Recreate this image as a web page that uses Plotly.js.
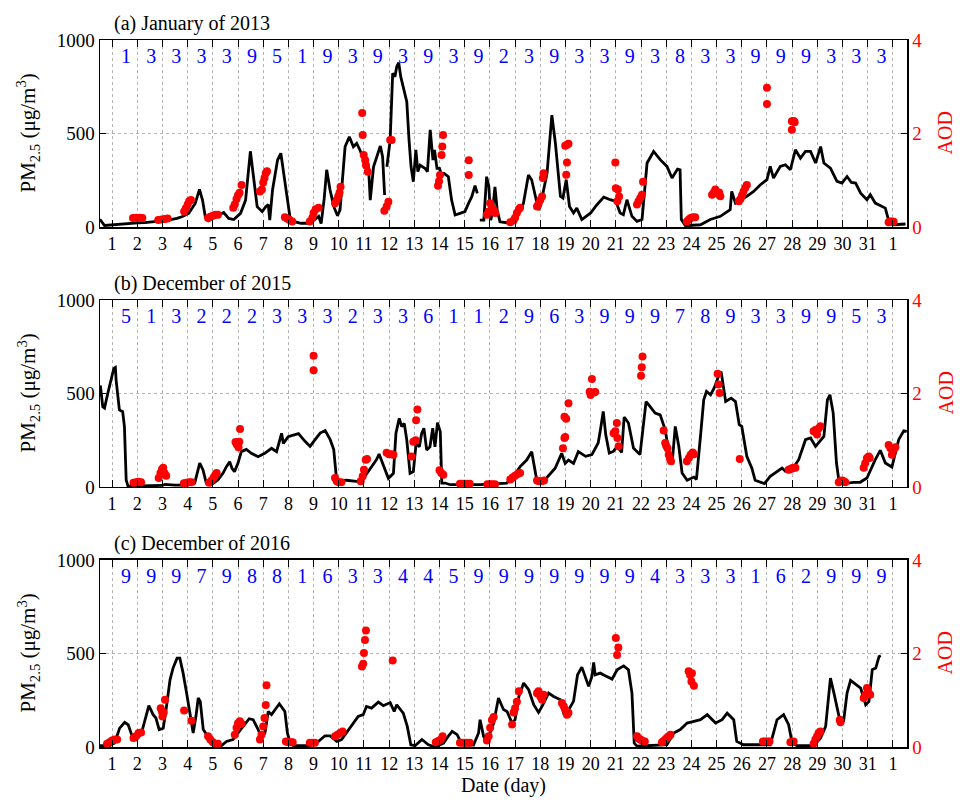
<!DOCTYPE html>
<html>
<head>
<meta charset="utf-8">
<script src="https://cdn.plot.ly/plotly-3.0.1.min.js"></script>
<style>html,body{margin:0;padding:0;background:#fff;}#chart{width:960px;height:802px;}</style>
</head>
<body>
<div id="chart"></div>
<script>
// ---------- DATA ----------
const dayTicks = [1,2,3,4,5,6,7,8,9,10,11,12,13,14,15,16,17,18,19,20,21,22,23,24,25,26,27,28,29,30,31,32];
const dayTickText = ["1","2","3","4","5","6","7","8","9","10","11","12","13","14","15","16","17","18","19","20","21","22","23","24","25","26","27","28","29","30","31","1"];
const clusterDays = [1,2,3,4,5,6,7,8,9,10,11,12,13,14,15,16,17,18,19,20,21,22,23,24,25,26,27,28,29,30,31];

const titleA = "(a) January of 2013";
const titleB = "(b) December of 2015";
const titleC = "(c) December of 2016";

const clusterA = ["1","3","3","3","3","9","5","1","9","3","9","3","9","3","9","2","3","9","3","3","9","3","8","3","3","9","9","9","3","3","3"];
const clusterB = ["5","1","3","2","2","2","3","3","3","2","3","3","6","1","1","2","9","6","3","9","9","9","7","8","9","3","3","9","9","5","3"];
const clusterC = ["9","9","9","7","9","8","8","1","6","3","3","4","4","5","9","9","9","9","9","9","9","4","3","3","3","1","6","2","9","9","9"];

// PM2.5 (day, µg/m3); null = missing
const pmA = [[0.5,37],[0.54,37],[0.7,8],[0.97,11],[1.3,15],[1.63,20],[2.0,22],[2.3,23],[2.7,28],[3.0,30],[3.24,37],[3.57,46],[3.77,55],[4.04,73],[4.3,126],[4.47,201],[4.59,144],[4.7,55],[4.83,34],[5.1,55],[5.43,77],[5.63,46],[5.83,40],[6.1,73],[6.3,144],[6.49,405],[6.63,233],[6.76,109],[6.96,82],[7.1,109],[7.2,120],[7.26,37],[7.37,198],[7.57,358],[7.7,394],[7.83,269],[7.96,144],[8.06,55],[8.2,30],[8.5,20],[8.8,20],[9.0,35],[9.2,57],[9.3,18],[9.42,150],[9.52,306],[9.65,200],[9.8,110],[9.95,60],[10.05,91],[10.25,429],[10.42,483],[10.58,429],[10.71,447],[10.84,412],[11.05,340],[11.18,322],[11.25,144],[11.38,322],[11.51,376],[11.65,433],[11.74,376],[11.82,171],[11.86,null],[11.91,322],[12.04,465],[12.14,822],[12.23,804],[12.3,857],[12.38,879],[12.46,804],[12.56,750],[12.7,670],[12.79,465],[12.87,322],[12.96,242],[13.06,412],[13.14,296],[13.23,331],[13.43,313],[13.52,296],[13.63,519],[13.74,358],[13.8,412],[13.9,313],[14.0,313],[14.06,287],[14.18,287],[14.35,269],[14.48,144],[14.62,64],[14.81,73],[15.01,82],[15.15,126],[15.28,162],[15.41,221],[15.5,180],[15.55,null],[15.6,37],[15.76,37],[15.87,269],[15.96,215],[16.03,37],[16.1,73],[16.2,215],[16.29,91],[16.4,28],[16.66,23],[16.93,37],[17.13,73],[17.33,126],[17.53,278],[17.66,251],[17.8,162],[17.93,91],[18.0,110],[18.27,288],[18.46,598],[18.6,448],[18.8,164],[18.9,155],[19.03,253],[19.16,110],[19.32,75],[19.45,101],[19.65,40],[20.0,75],[20.25,119],[20.52,160],[20.78,146],[21.0,137],[21.17,75],[21.3,66],[21.44,146],[21.64,57],[21.84,30],[22.04,40],[22.24,342],[22.5,404],[22.77,359],[23.03,324],[23.23,262],[23.45,310],[23.55,306],[23.6,40],[23.76,7],[24.1,12],[24.36,12],[24.75,40],[25.15,57],[25.54,93],[25.6,190],[25.75,128],[26.0,146],[26.2,164],[26.47,190],[26.74,226],[27.0,253],[27.13,324],[27.26,262],[27.53,324],[27.73,333],[27.93,306],[28.13,413],[28.33,368],[28.53,404],[28.73,404],[28.93,342],[29.13,430],[29.26,342],[29.52,315],[29.78,244],[29.98,235],[30.18,270],[30.35,238],[30.52,235],[30.72,181],[30.97,146],[31.1,173],[31.3,128],[31.57,110],[31.7,101],[31.84,30],[32.03,12],[32.5,16]];

const pmB = [[0.5,537],[0.54,536],[0.63,429],[0.7,422],[0.83,501],[1.07,635],[1.13,640],[1.16,572],[1.29,412],[1.42,403],[1.49,323],[1.56,37],[1.63,5],[2.0,5],[2.5,6],[3.0,8],[3.1,14],[3.5,10],[4.0,10],[4.28,21],[4.48,128],[4.61,91],[4.74,21],[4.94,12],[5.2,37],[5.4,73],[5.54,109],[5.67,135],[5.76,100],[5.86,82],[6.0,128],[6.13,189],[6.33,201],[6.53,180],[6.8,162],[7.06,180],[7.33,207],[7.53,189],[7.73,287],[7.8,233],[7.99,269],[8.19,278],[8.4,285],[8.66,244],[8.86,217],[9.06,253],[9.26,288],[9.46,302],[9.66,253],[9.8,200],[9.9,57],[9.98,30],[10.3,36],[10.7,30],[10.9,25],[11.04,57],[11.23,93],[11.5,146],[11.6,176],[11.78,109],[11.97,46],[12.17,73],[12.27,287],[12.4,367],[12.5,323],[12.6,340],[12.7,251],[12.83,73],[12.96,82],[13.07,233],[13.2,215],[13.29,287],[13.38,314],[13.49,198],[13.62,215],[13.73,314],[13.82,215],[13.92,344],[14.03,296],[14.09,21],[14.22,21],[14.42,12],[15.61,12],[16.67,21],[16.93,55],[17.2,109],[17.46,144],[17.66,189],[17.75,118],[17.86,37],[18.12,28],[18.39,73],[18.59,100],[18.85,180],[18.99,126],[19.12,144],[19.32,126],[19.51,189],[19.8,164],[20.05,173],[20.3,235],[20.4,315],[20.5,404],[20.6,279],[20.74,181],[20.9,190],[21.06,217],[21.23,185],[21.33,374],[21.5,342],[21.7,208],[21.96,173],[22.2,457],[22.3,440],[22.56,395],[22.76,386],[22.96,306],[23.1,190],[23.23,119],[23.36,324],[23.5,217],[23.63,75],[23.83,36],[24.1,53],[24.2,40],[24.36,270],[24.49,466],[24.6,511],[24.76,493],[24.9,528],[25.1,600],[25.18,617],[25.36,457],[25.58,475],[25.75,457],[25.9,333],[26.0,324],[26.2,164],[26.4,101],[26.53,36],[26.9,18],[27.13,57],[27.6,101],[27.73,84],[28.0,93],[28.26,146],[28.53,253],[28.73,262],[28.93,217],[29.26,270],[29.4,466],[29.5,493],[29.63,395],[29.76,128],[29.86,30],[30.05,18],[30.44,25],[30.7,25],[30.97,48],[31.3,146],[31.5,196],[31.7,128],[31.96,107],[32.23,253],[32.43,301],[32.55,298]];

const pmC = [[0.5,7],[0.9,7],[1.1,21],[1.3,101],[1.5,132],[1.64,119],[1.8,57],[1.97,40],[2.17,75],[2.3,146],[2.46,221],[2.63,173],[2.74,155],[2.87,93],[3.03,101],[3.16,217],[3.3,359],[3.42,422],[3.58,475],[3.69,475],[3.82,395],[3.96,288],[4.09,181],[4.22,75],[4.33,164],[4.42,262],[4.5,244],[4.62,93],[4.8,57],[5.0,21],[5.28,0],[5.54,30],[5.8,40],[6.0,75],[6.2,110],[6.44,151],[6.6,146],[6.8,93],[6.93,48],[7.07,75],[7.2,190],[7.33,173],[7.64,231],[7.86,190],[7.96,75],[8.07,21],[8.2,7],[8.86,7],[9.12,21],[9.45,60],[9.65,60],[9.92,30],[10.11,40],[10.44,101],[10.77,164],[10.97,173],[11.1,217],[11.3,208],[11.57,240],[11.77,221],[12.04,238],[12.2,190],[12.3,226],[12.56,181],[12.72,110],[12.86,12],[13.03,7],[13.3,40],[13.56,12],[13.83,0],[14.16,21],[14.36,60],[14.5,84],[14.7,66],[14.9,12],[15.35,10],[15.55,75],[15.61,146],[15.75,57],[15.88,30],[16.15,128],[16.34,262],[16.54,200],[16.68,190],[16.88,128],[17.0,146],[17.15,270],[17.34,342],[17.54,306],[17.74,226],[17.93,185],[18.07,217],[18.33,288],[18.53,270],[18.8,253],[18.93,181],[19.13,200],[19.32,244],[19.48,386],[19.65,427],[19.78,377],[19.92,324],[20.05,377],[20.12,452],[20.18,386],[20.38,395],[20.58,381],[20.85,363],[21.05,413],[21.31,434],[21.5,413],[21.64,288],[21.73,21],[21.84,4],[23.03,12],[23.3,75],[23.56,93],[23.83,128],[24.1,137],[24.36,146],[24.63,173],[24.96,128],[25.22,146],[25.42,181],[25.68,146],[25.8,30],[26.07,12],[27.13,12],[27.26,75],[27.4,146],[27.66,173],[27.86,119],[28.0,21],[28.2,7],[28.86,7],[29.13,48],[29.33,110],[29.52,368],[29.66,288],[29.86,164],[30.05,146],[30.18,288],[30.32,356],[30.52,333],[30.72,315],[30.92,226],[31.05,244],[31.18,413],[31.32,422],[31.45,484],[31.52,488]];

// AOD (day, AOD)
const aodA = [[1.83,0.19],[1.97,0.2],[2.1,0.2],[2.2,0.19],[2.83,0.15],[2.96,0.16],[3.09,0.17],[3.2,0.18],[3.86,0.33],[3.93,0.4],[4.0,0.48],[4.06,0.55],[4.13,0.58],[4.81,0.19],[4.9,0.22],[5.0,0.24],[5.1,0.26],[5.2,0.26],[5.81,0.41],[5.87,0.48],[5.94,0.6],[6.0,0.68],[6.06,0.73],[6.14,0.9],[6.87,0.76],[6.95,0.8],[7.0,0.95],[7.05,1.05],[7.1,1.15],[7.15,1.19],[7.86,0.21],[7.95,0.18],[8.05,0.15],[8.15,0.12],[8.85,0.12],[8.95,0.2],[9.0,0.3],[9.08,0.38],[9.2,0.41],[9.85,0.51],[9.92,0.58],[9.98,0.66],[10.03,0.74],[10.07,0.86],[10.93,2.44],[10.95,1.97],[10.99,1.54],[11.05,1.43],[11.08,1.32],[11.15,1.18],[11.81,0.35],[11.9,0.44],[11.97,0.54],[12.04,1.86],[12.1,1.86],[13.94,0.88],[13.98,0.98],[14.02,1.11],[14.08,1.54],[14.11,1.72],[14.14,1.97],[15.16,1.43],[15.16,1.11],[15.88,0.26],[15.95,0.33],[16.01,0.51],[16.08,0.4],[16.15,0.37],[16.21,0.3],[16.81,0.1],[16.94,0.14],[17.0,0.2],[17.07,0.3],[17.15,0.38],[17.2,0.41],[17.87,0.44],[17.93,0.5],[18.0,0.58],[18.07,0.65],[18.1,1.05],[18.13,1.15],[18.99,1.74],[19.06,1.76],[19.12,1.78],[19.06,1.38],[19.03,1.12],[20.98,1.38],[21.0,0.83],[21.08,0.8],[21.13,0.65],[21.06,0.55],[21.84,0.48],[21.9,0.55],[21.97,0.62],[22.04,0.69],[22.08,0.97],[23.82,0.12],[23.9,0.16],[23.97,0.19],[24.05,0.21],[24.15,0.21],[24.82,0.69],[24.89,0.74],[24.95,0.8],[25.0,0.72],[25.1,0.74],[25.15,0.66],[25.88,0.55],[25.95,0.6],[26.01,0.68],[26.07,0.76],[26.14,0.84],[26.2,0.9],[27.0,2.98],[27.0,2.63],[27.99,2.26],[28.06,2.27],[28.1,2.24],[27.99,2.08],[31.83,0.1],[31.9,0.12],[31.97,0.12],[32.03,0.11]];

const aodB = [[1.85,0.09],[1.95,0.1],[2.05,0.11],[2.15,0.1],[2.85,0.19],[2.92,0.3],[2.98,0.38],[3.03,0.41],[3.08,0.3],[3.15,0.24],[3.85,0.08],[3.95,0.09],[4.05,0.1],[4.15,0.1],[4.85,0.09],[4.95,0.14],[5.03,0.2],[5.1,0.26],[5.15,0.3],[5.9,0.96],[5.95,0.91],[6.02,0.85],[6.05,0.97],[6.08,1.24],[9.0,2.81],[9.0,2.5],[9.85,0.19],[9.92,0.12],[10.0,0.1],[10.1,0.1],[10.87,0.12],[10.95,0.23],[11.0,0.37],[11.07,0.58],[11.12,0.6],[11.9,0.73],[12.0,0.7],[12.1,0.7],[12.17,0.69],[12.89,0.65],[12.96,0.97],[13.05,1.0],[13.07,1.43],[13.12,1.66],[14.0,0.36],[14.07,0.3],[14.15,0.26],[14.81,0.07],[14.9,0.07],[15.0,0.07],[15.1,0.07],[15.2,0.07],[15.9,0.06],[16.0,0.06],[16.1,0.06],[16.2,0.06],[16.81,0.16],[16.9,0.2],[17.0,0.24],[17.1,0.28],[17.2,0.3],[17.87,0.14],[17.95,0.12],[18.05,0.12],[18.15,0.14],[18.9,0.83],[18.96,1.05],[18.99,1.07],[18.96,1.5],[19.03,1.46],[19.12,1.79],[19.96,2.04],[20.0,1.97],[20.05,2.31],[20.12,2.02],[20.18,2.03],[20.91,1.15],[20.98,1.19],[21.04,1.37],[21.06,1.05],[21.11,0.87],[22.0,2.38],[22.03,2.56],[22.06,2.79],[22.9,1.21],[22.96,0.94],[23.0,0.88],[23.05,0.83],[23.1,0.69],[23.15,0.6],[23.19,0.55],[23.82,0.55],[23.9,0.62],[23.97,0.69],[24.05,0.74],[24.1,0.7],[25.04,2.42],[25.08,2.19],[25.12,2.01],[25.92,0.6],[27.86,0.37],[27.93,0.38],[27.99,0.4],[28.06,0.41],[28.13,0.41],[28.85,1.19],[28.92,1.22],[28.99,1.12],[29.05,1.25],[29.12,1.3],[29.85,0.1],[29.92,0.12],[29.98,0.14],[30.05,0.12],[30.11,0.1],[30.84,0.41],[30.9,0.51],[30.97,0.62],[31.04,0.65],[31.08,0.62],[31.83,0.9],[31.9,0.83],[31.96,0.69],[32.03,0.8],[32.1,0.85]];

const aodC = [[0.8,0.07],[0.9,0.1],[1.0,0.14],[1.1,0.16],[1.2,0.16],[1.85,0.19],[1.95,0.23],[2.05,0.3],[2.15,0.31],[2.93,0.83],[2.98,0.76],[3.0,0.65],[3.05,0.74],[3.1,1.01],[3.86,0.78],[4.15,0.56],[4.81,0.23],[4.9,0.16],[5.0,0.1],[5.1,0.07],[5.2,0.07],[5.87,0.26],[5.94,0.41],[6.0,0.51],[6.07,0.55],[6.14,0.5],[6.87,0.16],[6.93,0.26],[7.0,0.44],[7.05,0.62],[7.1,0.9],[7.13,1.32],[7.9,0.12],[8.0,0.1],[8.1,0.1],[8.17,0.1],[8.85,0.09],[8.95,0.09],[9.05,0.09],[9.85,0.23],[9.95,0.26],[10.05,0.3],[10.15,0.33],[10.92,1.72],[10.97,1.78],[11.0,2.01],[11.04,2.29],[11.08,2.49],[12.14,1.85],[13.85,0.1],[13.95,0.13],[14.05,0.16],[14.12,0.23],[14.81,0.09],[14.9,0.09],[15.0,0.09],[15.1,0.09],[15.2,0.09],[15.88,0.14],[15.95,0.23],[16.01,0.41],[16.08,0.58],[16.15,0.64],[16.88,0.48],[16.94,0.74],[17.0,0.83],[17.07,0.97],[17.15,1.19],[17.87,1.15],[17.93,1.19],[18.0,1.08],[18.07,1.01],[18.13,1.12],[18.86,0.94],[18.93,0.87],[18.99,0.8],[19.06,0.69],[19.12,0.73],[21.0,2.33],[21.1,2.13],[21.05,1.97],[21.84,0.23],[21.9,0.18],[21.97,0.16],[22.04,0.14],[22.15,0.12],[22.83,0.1],[22.9,0.13],[22.96,0.16],[23.03,0.2],[23.1,0.23],[23.17,0.26],[23.89,1.62],[23.95,1.54],[24.0,1.4],[24.1,1.31],[24.02,1.58],[26.84,0.12],[26.93,0.12],[27.0,0.12],[27.1,0.12],[27.93,0.1],[28.0,0.1],[28.06,0.12],[28.85,0.07],[28.92,0.16],[28.99,0.23],[29.05,0.3],[29.12,0.33],[29.89,0.58],[29.92,0.53],[30.84,1.05],[30.91,1.12],[30.97,1.26],[31.04,1.15],[31.1,1.12]];

// ---------- BUILD ----------
const FONT = "Liberation Serif, Times New Roman, serif";
const px = a => a.map(p => p[0]);
const py = a => a.map(p => p[1]);

const panels = [
  {pm: pmA, aod: aodA, cl: clusterA, title: titleA, xa: "x",  yl: "y",  yr: "y2", xn: "xaxis",  yln: "yaxis",  yrn: "yaxis2", dom: [0.7355, 1.0]},
  {pm: pmB, aod: aodB, cl: clusterB, title: titleB, xa: "x2", yl: "y3", yr: "y4", xn: "xaxis2", yln: "yaxis3", yrn: "yaxis4", dom: [0.3678, 0.6322]},
  {pm: pmC, aod: aodC, cl: clusterC, title: titleC, xa: "x3", yl: "y5", yr: "y6", xn: "xaxis3", yln: "yaxis5", yrn: "yaxis6", dom: [0.0, 0.2645]}
];

const traces = [];
const layout = {
  width: 960, height: 802,
  margin: {l: 100, r: 53, t: 40, b: 55},
  paper_bgcolor: "#fff", plot_bgcolor: "#fff",
  showlegend: false,
  font: {family: FONT, size: 18, color: "#000"},
  annotations: []
};

panels.forEach((p, i) => {
  traces.push({x: px(p.pm), y: py(p.pm), xaxis: p.xa, yaxis: p.yl, type: "scatter", mode: "lines",
    line: {color: "#000", width: 2.8}, connectgaps: false, hoverinfo: "skip"});
  traces.push({x: px(p.aod), y: py(p.aod), xaxis: p.xa, yaxis: p.yr, type: "scatter", mode: "markers",
    marker: {color: "#ff0000", size: 8}, hoverinfo: "skip"});
  traces.push({x: clusterDays.map(d => d + 0.55), y: clusterDays.map(() => 905), text: p.cl, xaxis: p.xa, yaxis: p.yl,
    type: "scatter", mode: "text", textfont: {family: FONT, size: 20, color: "#0000ff"}, hoverinfo: "skip"});

  const isLast = i === panels.length - 1;
  const xa = {
    domain: [0, 1], anchor: p.yl, range: [0.52, 32.56],
    tickmode: "array", tickvals: dayTicks, ticktext: dayTickText,
    ticks: "inside", ticklen: 7, tickwidth: 1, tickcolor: "#000",
    showline: true, linecolor: "#000", linewidth: 1.5, mirror: "ticks",
    showgrid: true, gridcolor: "#b4b4b4", griddash: "dot", gridwidth: 1,
    zeroline: false, tickfont: {family: FONT, size: 18, color: "#000"}
  };
  if (isLast) xa.title = {text: "Date (day)", font: {family: FONT, size: 20, color: "#000"}, standoff: 4};
  layout[p.xn] = xa;
  layout[p.yln] = {
    domain: p.dom, anchor: p.xa, range: [0, 1000],
    tickmode: "array", tickvals: [0, 500, 1000],
    ticks: "inside", ticklen: 6, tickcolor: "#000",
    showline: true, linecolor: "#000", linewidth: 1.5,
    showgrid: true, gridcolor: "#b4b4b4", griddash: "dot", gridwidth: 1,
    zeroline: false, tickfont: {family: FONT, size: 19, color: "#000"}
  };
  layout[p.yrn] = {
    overlaying: p.yl, side: "right", anchor: p.xa, range: [0, 4],
    tickmode: "array", tickvals: [0, 2, 4],
    ticks: "inside", ticklen: 6, tickcolor: "#000",
    showline: true, linecolor: "#000", linewidth: 1.5,
    showgrid: false, zeroline: false, tickfont: {family: FONT, size: 19, color: "#ff0000"}
  };

  const mid = (p.dom[0] + p.dom[1]) / 2;
  layout.annotations.push({text: p.title, xref: "paper", yref: "paper", x: 0.015, y: p.dom[1], xanchor: "left", yanchor: "bottom",
    yshift: 3, showarrow: false, font: {family: FONT, size: 20, color: "#000"}});
  layout.annotations.push({text: "PM<sub>2.5</sub> (μg/m<sup>3</sup>)", xref: "paper", yref: "paper", x: 0, y: mid, xanchor: "center", yanchor: "middle",
    xshift: -72, textangle: -90, showarrow: false, font: {family: FONT, size: 21, color: "#000"}});
  layout.annotations.push({text: "AOD", xref: "paper", yref: "paper", x: 1, y: mid, xanchor: "center", yanchor: "middle",
    xshift: 38, textangle: -90, showarrow: false, font: {family: FONT, size: 20, color: "#ff0000"}});
});

Plotly.newPlot("chart", traces, layout, {displayModeBar: false, staticPlot: true});
</script>
</body>
</html>
